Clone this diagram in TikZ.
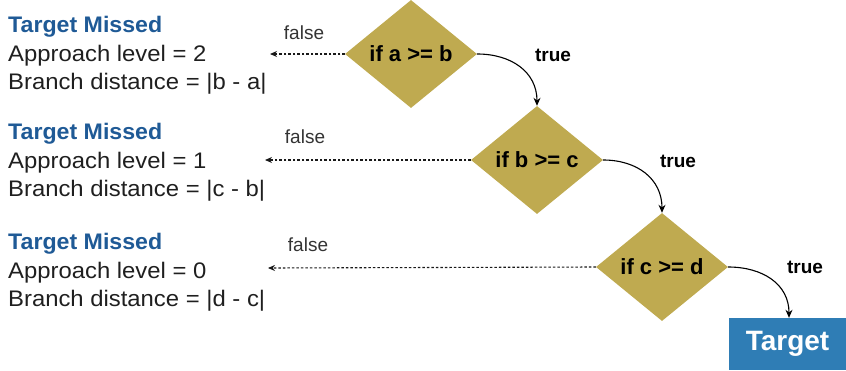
\documentclass[tikz,border=0pt]{standalone}
\usepackage{fontspec}
\setmainfont{Liberation Sans}
\newfontfamily\infofont[FakeStretch=1.06]{Liberation Sans}
\newfontfamily\titlefont[FakeStretch=1.03]{Liberation Sans}
\usetikzlibrary{shapes.geometric,arrows.meta}
\definecolor{gold}{HTML}{BFAA50}
\definecolor{titleblue}{HTML}{1F5A96}
\definecolor{boxblue}{HTML}{2F7DB5}
\tikzset{
  cond/.style={diamond, fill=gold, minimum width=132pt, minimum height=108pt, inner sep=0pt,
     font=\fontsize{22}{26}\selectfont\bfseries, text=black},
  info/.style={anchor=north west, align=left, inner sep=0pt, font=\fontsize{22.5}{28.5}\selectfont\infofont, text=black!88},
  lbl/.style={font=\fontsize{19}{22}\selectfont, text=black!80},
  tlbl/.style={font=\fontsize{19}{22}\selectfont\bfseries, text=black},
  falsearrow/.style={line width=1.1pt, black!90, dash pattern=on 2.5pt off 2pt, -{Stealth[length=7pt,width=6pt]}},
  truearrow/.style={line width=1.1pt, -{Stealth[length=8pt,width=7pt]}},
}
\begin{document}
\begin{tikzpicture}[x=1pt,y=-1pt]
\useasboundingbox (0,0) rectangle (846,370);
% diamonds
\node[cond] (d1) at (411,54) {if a >= b};
\node[cond] (d2) at (537,160) {if b >= c};
\node[cond] (d3) at (662,267) {if c >= d};
% target
\node[fill=boxblue, minimum width=117pt, minimum height=52pt, inner sep=0pt,
      font=\fontsize{28}{32}\selectfont\bfseries, text=white] (t) at (787.5,344) {Target};
% info blocks
\node[info] (m1) at (8,16) {{\color{titleblue}\titlefont\bfseries Target Missed}\\Approach level = 2\\Branch distance = |b - a|};
\node[info] (m2) at (8,123) {{\color{titleblue}\titlefont\bfseries Target Missed}\\Approach level = 1\\Branch distance = |c - b|};
\node[info] (m3) at (8,233) {{\color{titleblue}\titlefont\bfseries Target Missed}\\Approach level = 0\\Branch distance = |d - c|};
% false-arrow end points
\coordinate (f1) at (270,54);
\coordinate (f2) at (265,160);
\coordinate (f3) at (268,268);
\draw[falsearrow] (d1.west) -- (f1);
\draw[falsearrow] (d2.west) -- (f2);
\draw[falsearrow] (d3.west) -- (f3);
\node[lbl] (l1) at (304,33) {false};
\node[lbl] (l2) at (305,137) {false};
\node[lbl] (l3) at (308,245) {false};
% true arrows
\draw[truearrow] (d1.east) to[out=0,in=90,looseness=1.1] (d2.north);
\draw[truearrow] (d2.east) to[out=0,in=90,looseness=1.1] (d3.north);
\draw[truearrow] (d3.east) to[out=0,in=90,looseness=1.1] ([xshift=1.5pt]t.north);
\node[tlbl] (t1) at (553,55) {true};
\node[tlbl] (t2) at (678,161) {true};
\node[tlbl] (t3) at (805,267) {true};
\end{tikzpicture}
\end{document}
